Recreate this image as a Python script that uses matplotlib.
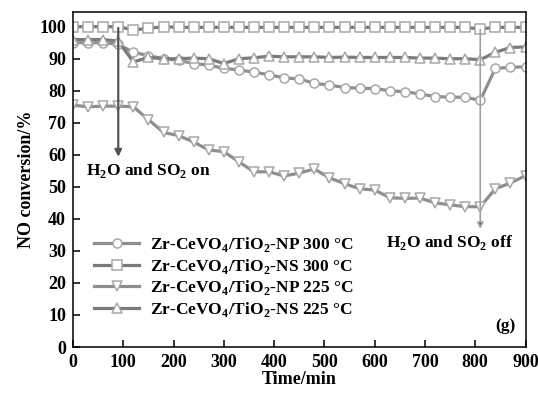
import matplotlib.pyplot as plt

plt.rcParams['font.family'] = ['Liberation Serif', 'DejaVu Serif']
plt.rcParams['font.weight'] = 'bold'
plt.rcParams['axes.labelweight'] = 'bold'
plt.rcParams['mathtext.fontset'] = 'custom'
plt.rcParams['mathtext.rm'] = 'Liberation Serif:bold'
plt.rcParams['mathtext.bf'] = 'Liberation Serif:bold'

# time axis, one reading every 30 min
time_min = list(range(0, 901, 30))

np_300 = [95, 95, 95, 94.5, 92, 91, 90, 89.5, 88.5, 88, 87, 86.5, 85.8, 85, 84, 83.7,
          82.3, 81.8, 81, 80.8, 80.7, 80, 79.7, 79, 78.2, 78, 78, 77, 87, 87.3, 87.5]
ns_300 = [100, 100, 100, 100, 99, 99.5, 100, 99.8, 99.8, 99.8, 99.8, 99.8, 99.8, 99.8, 99.8, 99.8,
          99.8, 99.8, 99.8, 99.8, 99.8, 99.8, 99.8, 99.8, 99.8, 99.8, 99.8, 99.3, 99.8, 99.8, 99.8]
np_225 = [75.5, 75, 75.2, 75.2, 75, 71, 67, 66, 64, 61.5, 61, 57.8, 54.7, 54.7, 53.4, 54.3,
          55.6, 52.8, 51, 49.4, 49, 46.6, 46.4, 46.5, 45, 44.4, 43.8, 43.8, 49.4, 51.2, 53.5]
ns_225 = [96, 96, 96, 95.5, 89, 90.4, 90, 90, 90.2, 90, 88.5, 90, 90.3, 90.8, 90.6, 90.6,
          90.6, 90.4, 90.5, 90.4, 90.4, 90.4, 90.4, 90.2, 90.2, 90, 90, 89.7, 92, 93.5, 93.7]

labels = [r'Zr-CeVO$_4$/TiO$_2$-NP 300 °C',
          r'Zr-CeVO$_4$/TiO$_2$-NS 300 °C',
          r'Zr-CeVO$_4$/TiO$_2$-NP 225 °C',
          r'Zr-CeVO$_4$/TiO$_2$-NS 225 °C']

fig = plt.figure(figsize=(5.38, 3.95), dpi=100)
ax = fig.add_axes([0.1357, 0.1215, 0.8411, 0.849])

series = [(np_300, 'o', '#8e8e8e'), (ns_300, 's', '#7a7a7a'),
          (np_225, 'v', '#8e8e8e'), (ns_225, '^', '#7a7a7a')]
for (vals, mk, col), lab in zip(series, labels):
    ax.plot(time_min, vals, color=col, lw=2.3, marker=mk, ms=6.5,
            mfc='white', mec='#a8a8a8', mew=1.1, label=lab)

# gas on / off arrows
ax.annotate('', xy=(90, 58.5), xytext=(90, 100.5),
            arrowprops=dict(arrowstyle='-|>', color='#555555', lw=1.6, mutation_scale=10))
ax.text(150, 55, r'H$_2$O and SO$_2$ on', ha='center', va='center', fontsize=12.5)
ax.annotate('', xy=(810, 36), xytext=(810, 100),
            arrowprops=dict(arrowstyle='-|>', color='#a0a0a0', lw=1.2,
                            mutation_scale=9, fc='#555555'))
ax.text(750, 32.5, r'H$_2$O and SO$_2$ off', ha='center', va='center', fontsize=12.5)
ax.text(880, 6.5, '(g)', ha='right', va='center', fontsize=12.5)

ax.set_xlim(0, 900)
ax.set_ylim(0, 104.7)
ax.set_xticks(range(0, 901, 100))
ax.set_yticks(range(0, 101, 10))
ax.tick_params(direction='in', length=5, width=1.1, labelsize=13, pad=5)
for sp in ax.spines.values():
    sp.set_linewidth(1.1)
ax.set_xlabel('Time/min', fontsize=13, labelpad=0)
ax.set_ylabel('NO conversion/%', fontsize=13, labelpad=3)

ax.legend(loc='upper left', bbox_to_anchor=(0.02, 0.37), frameon=False,
          fontsize=12.5, handlelength=2.6, handletextpad=0.6, labelspacing=0.15,
          borderpad=0.2)

fig.savefig('out.png', dpi=100)
